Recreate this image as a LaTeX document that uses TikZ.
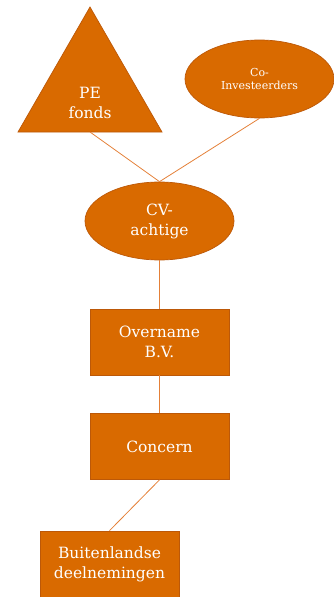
\documentclass[tikz,border=0pt]{standalone}
\usepackage{fontspec}
\setmainfont{DejaVu Serif}
\usetikzlibrary{shapes.geometric}
\definecolor{fillor}{RGB}{217,106,0}
\definecolor{edgeor}{RGB}{188,88,8}
\definecolor{linkor}{RGB}{228,128,56}

\begin{document}
\begin{tikzpicture}[x=1pt,y=-1pt,
  blob/.style={fill=fillor, draw=edgeor, line width=0.7pt},
  boxnode/.style={blob, rectangle, minimum width=139pt, minimum height=66pt, inner sep=0pt},
  ovalnode/.style={blob, ellipse, minimum width=149pt, minimum height=78pt, inner sep=0pt},
  lbl/.style={text=white, align=center, font=\fontsize{15.5}{20}\selectfont},
  small/.style={text=white, align=center, font=\fontsize{11}{13.5}\selectfont},
  link/.style={draw=linkor, line width=0.8pt}]
\useasboundingbox (0,0) rectangle (334,597);

% PE fund: triangle drawn as a path
\coordinate (peapex) at (90,7);
\coordinate (peleft) at (18,132);
\coordinate (peright) at (162,132);
\coordinate (pebase) at (90,132);
\draw[blob] (peapex) -- (peright) -- (peleft) -- cycle;
\node[lbl] (pe) at (90,103) {PE\\fonds};

% co-investors
\node[ovalnode] (co) at (259.5,79) {};
\node[small] (colbl) at (co) {Co-\\Investeerders};

% holding vehicle
\node[ovalnode, lbl] (cv) at (159.5,221) {CV-\\achtige};

% company chain
\node[boxnode, lbl] (ovn) at (159.5,342) {Overname\\B.V.};
\node[boxnode, lbl] (con) at (159.5,446.5) {Concern};
\node[boxnode, lbl] (bui) at (109.5,564) {Buitenlandse\\deelnemingen};

% connectors
\draw[link] (pebase) -- (cv.north);
\draw[link] (co.south) -- (cv.north);
\draw[link] (cv.south) -- (ovn.north);
\draw[link] (ovn.south) -- (con.north);
\draw[link] (con.south) -- (bui.north);
\end{tikzpicture}
\end{document}
